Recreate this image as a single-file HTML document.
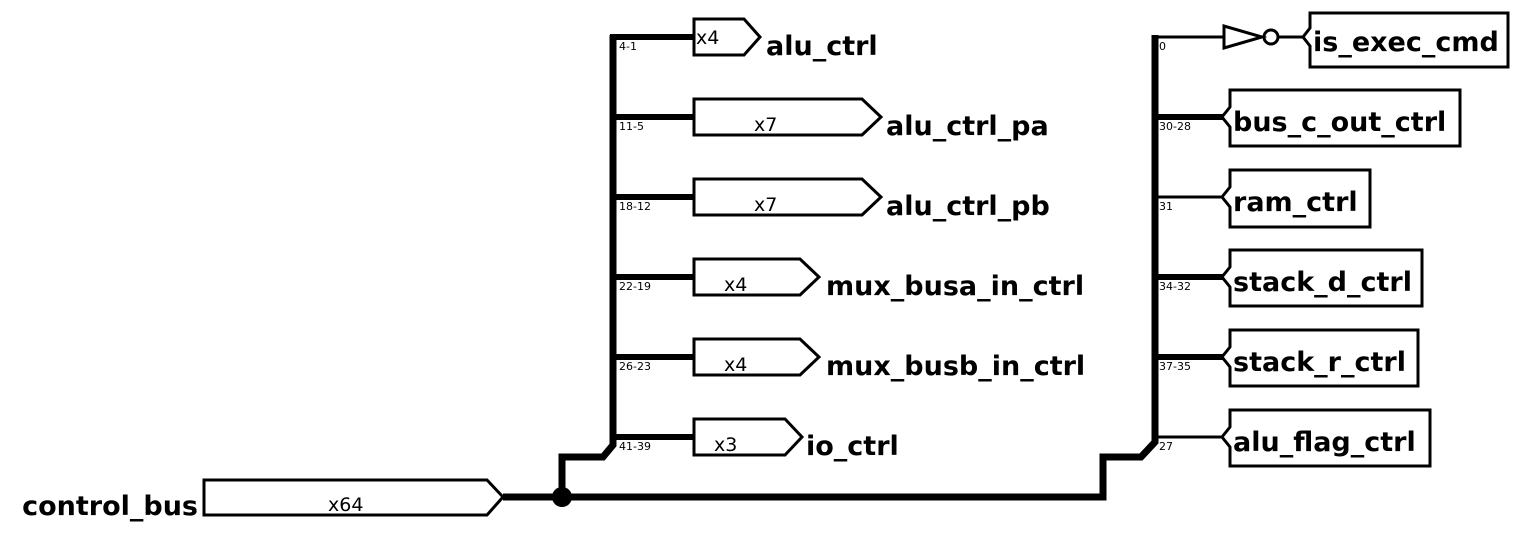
<!DOCTYPE html>
<html><head><meta charset="utf-8"><style>
html,body{margin:0;padding:0;background:#fff;}
svg{display:block;}
text{font-family:"DejaVu Sans","Liberation Sans",sans-serif;fill:#000;}
.b{font-weight:bold;font-size:27px;}
.s{font-size:11px;}
.m{font-size:19px;}
</style></head><body>
<svg width="1520" height="536" viewBox="0 0 1520 536" xmlns="http://www.w3.org/2000/svg">
<g fill="none" stroke="#000" stroke-linejoin="miter">
<!-- main bus -->
<polyline points="503,497 1103,497 1103,457 1141,457 1155,442 1155,35" stroke-width="7"/>
<polyline points="562,497 562,457 603,457 613,445 613,35" stroke-width="7"/>
<!-- left branches -->
<line x1="610" y1="37" x2="694" y2="37" stroke-width="6"/>
<line x1="610" y1="117" x2="694" y2="117" stroke-width="6"/>
<line x1="610" y1="197" x2="694" y2="197" stroke-width="6"/>
<line x1="610" y1="277" x2="694" y2="277" stroke-width="6"/>
<line x1="610" y1="357" x2="694" y2="357" stroke-width="6"/>
<line x1="610" y1="437" x2="694" y2="437" stroke-width="6"/>
<!-- right branches -->
<line x1="1155" y1="37" x2="1224" y2="37" stroke-width="3"/>
<line x1="1155" y1="117" x2="1224" y2="117" stroke-width="6"/>
<line x1="1155" y1="197" x2="1224" y2="197" stroke-width="3"/>
<line x1="1155" y1="277" x2="1224" y2="277" stroke-width="6"/>
<line x1="1155" y1="357" x2="1224" y2="357" stroke-width="6"/>
<line x1="1155" y1="437" x2="1224" y2="437" stroke-width="3"/>
<!-- output pins -->
<g stroke-width="3">
<polygon points="694,19 744,19 760,37 744,55 694,55"/>
<polygon points="694,99 862,99 881,117 862,135 694,135"/>
<polygon points="694,179 862,179 881,197 862,215 694,215"/>
<polygon points="694,259 800,259 819,277 800,295 694,295"/>
<polygon points="694,339 800,339 819,357 800,375 694,375"/>
<polygon points="694,419 785,419 802,437 785,455 694,455"/>
<polygon points="204,480 487,480 503,497 487,515 204,515"/>
<!-- inverter -->
<polygon points="1224,26 1224,48 1262,37"/>
<circle cx="1271" cy="37" r="7"/>
<line x1="1278" y1="37" x2="1305" y2="37"/>
<!-- input pins -->
<polygon points="1310,13 1508,13 1508,67 1310,67 1310,46 1303,37 1310,28"/>
<polygon points="1230,90 1460,90 1460,146 1230,146 1230,127 1222,117 1230,107"/>
<polygon points="1230,170 1370,170 1370,227 1230,227 1230,207 1222,197 1230,187"/>
<polygon points="1230,250 1422,250 1422,306 1230,306 1230,287 1222,277 1230,267"/>
<polygon points="1230,330 1418,330 1418,386 1230,386 1230,367 1222,357 1230,347"/>
<polygon points="1230,410 1430,410 1430,466 1230,466 1230,447 1222,437 1230,427"/>
</g>
</g>
<circle cx="562" cy="497" r="10" fill="#000"/>
<!-- small labels -->
<text class="s" x="619" y="50">4-1</text>
<text class="s" x="619" y="130">11-5</text>
<text class="s" x="619" y="210">18-12</text>
<text class="s" x="619" y="290">22-19</text>
<text class="s" x="619" y="370">26-23</text>
<text class="s" x="619" y="450">41-39</text>
<text class="s" x="1159" y="50">0</text>
<text class="s" x="1159" y="130">30-28</text>
<text class="s" x="1159" y="210">31</text>
<text class="s" x="1159" y="290">34-32</text>
<text class="s" x="1159" y="370">37-35</text>
<text class="s" x="1159" y="450">27</text>
<!-- widths -->
<text class="m" x="696" y="44">x4</text>
<text class="m" x="754" y="131">x7</text>
<text class="m" x="754" y="211">x7</text>
<text class="m" x="724" y="291">x4</text>
<text class="m" x="724" y="371">x4</text>
<text class="m" x="714" y="451">x3</text>
<text class="m" x="328" y="511">x64</text>
<!-- names -->
<text class="b" x="766" y="55">alu_ctrl</text>
<text class="b" x="886" y="135">alu_ctrl_pa</text>
<text class="b" x="886" y="215">alu_ctrl_pb</text>
<text class="b" x="826" y="295">mux_busa_in_ctrl</text>
<text class="b" x="826" y="375">mux_busb_in_ctrl</text>
<text class="b" x="806" y="455">io_ctrl</text>
<text class="b" x="198" y="515" text-anchor="end">control_bus</text>
<text class="b" x="1313" y="51">is_exec_cmd</text>
<text class="b" x="1233" y="131">bus_c_out_ctrl</text>
<text class="b" x="1233" y="211">ram_ctrl</text>
<text class="b" x="1233" y="291">stack_d_ctrl</text>
<text class="b" x="1233" y="371">stack_r_ctrl</text>
<text class="b" x="1233" y="451">alu_flag_ctrl</text>
</svg>
</body></html>
